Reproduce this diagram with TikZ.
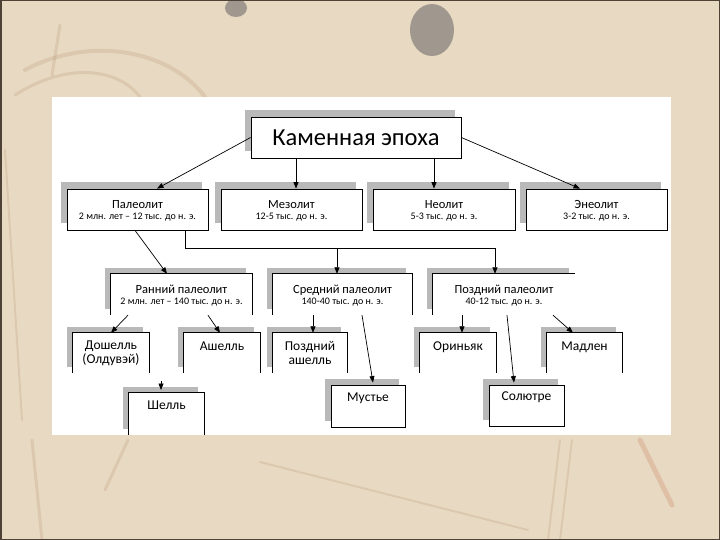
\documentclass[tikz,border=0pt]{standalone}
\usepackage{fontspec}
\setmainfont{Carlito}
\usetikzlibrary{shadows,arrows.meta,calc}
\definecolor{parch}{HTML}{E8DAC2}
\definecolor{streak}{HTML}{B08A6A}
\definecolor{spot}{HTML}{8E8782}
\definecolor{shgray}{HTML}{B9B9B9}
\definecolor{frame}{HTML}{4E4236}
\tikzset{
  shd/.style={general shadow={fill=shgray, shadow xshift=-6pt, shadow yshift=6.5pt}},
  box/.style={rectangle, fill=white, draw=black, line width=0.8pt, inner sep=0pt, align=center, shd},
  obox/.style={rectangle, fill=white, draw=none, inner sep=0pt, align=center, shd},
  arr/.style={line width=0.7pt, -{Triangle[length=6.5pt,width=5pt]}},
  con/.style={line width=0.8pt},
  mainf/.style={font=\fontsize{12.5}{13}\selectfont},
  leaf/.style={font=\fontsize{13.5}{14}\selectfont},
}
\newcommand{\subt}[1]{{\fontsize{10}{10}\selectfont\vphantom{Йд}#1}}
\newcommand{\ttl}[1]{\vphantom{Йд}#1}
\begin{document}
\begin{tikzpicture}[x=1pt,y=-1pt]
\useasboundingbox (0,0) rectangle (720,540);
% background
\fill[parch] (0,0) rectangle (720,540);
\begin{scope}[opacity=0.22, line cap=round]
  \draw[streak, line width=4pt] (25,70) .. controls (90,35) and (170,50) .. (205,97);
  \draw[streak, line width=3pt] (15,95) .. controls (70,60) and (120,70) .. (140,97);
  \draw[streak, line width=3pt] (60,25) -- (52,75);
  \draw[streak, line width=2pt] (5,150) -- (22,420);
  \draw[streak, line width=3pt] (32,440) -- (42,540);
  \draw[streak, line width=3pt] (128,440) -- (105,490);
  \draw[streak, line width=2pt] (560,440) -- (548,540);
  \draw[streak, line width=2pt] (572,440) -- (560,540);
  \draw[streak!70!red, line width=5pt] (640,440) -- (672,505);
  \draw[streak, line width=2pt] (260,462) -- (528,530);
\end{scope}
\fill[spot, opacity=0.8] (432,30) ellipse [x radius=22, y radius=26];
\fill[spot, opacity=0.8] (236,8) ellipse [x radius=11, y radius=9];
\draw[frame, line width=1.5pt] (0.75,0.75) rectangle (719.25,539.25);
% white panel
\fill[white] (52,97) rectangle (671,435);

% level 0
\node[box, minimum width=210pt, minimum height=41pt, font=\fontsize{24.5}{26}\selectfont] (kam) at (356,137.5) {Каменная эпоха};
% level 1
\node[box, mainf, minimum width=141pt, minimum height=41pt] (pal) at (137.5,209.5) {\ttl{Палеолит}\\[-2pt]\subt{2 млн. лет – 12 тыс. до н. э.}};
\node[box, mainf, minimum width=141pt, minimum height=41pt] (mez) at (291.5,209.5) {\ttl{Мезолит}\\[-2pt]\subt{12-5 тыс. до н. э.}};
\node[box, mainf, minimum width=142pt, minimum height=41pt] (neo) at (444,209.5) {\ttl{Неолит}\\[-2pt]\subt{5-3 тыс. до н. э.}};
\node[box, mainf, minimum width=141pt, minimum height=41pt] (eneo) at (596.5,209.5) {\ttl{Энеолит}\\[-2pt]\subt{3-2 тыс. до н. э.}};
% level 2
\node[obox, mainf, minimum width=141pt, minimum height=41pt] (ran) at (181.5,294.5) {\ttl{Ранний палеолит}\\[-2pt]\subt{2 млн. лет – 140 тыс. до н. э.}};
\node[obox, mainf, minimum width=139pt, minimum height=41pt] (sred) at (342.5,294.5) {\ttl{Средний палеолит}\\[-2pt]\subt{140-40 тыс. до н. э.}};
\node[obox, mainf, minimum width=142pt, minimum height=41pt] (pozd) at (504,294.5) {\ttl{Поздний палеолит}\\[-2pt]\subt{40-12 тыс. до н. э.}};
\draw[con] (ran.south west) -- (ran.north west) -- (ran.north east) -- (ran.south east);
\draw[con] (sred.south west) -- (sred.north west) -- (sred.north east) -- (sred.south east);
\draw[con] (pozd.south west) -- (pozd.north west) -- (pozd.north east);
% level 3
\node[obox, leaf, minimum width=76pt, minimum height=40pt] (dosh) at (111,353) {Дошелль\\(Олдувэй)};
\node[obox, leaf, minimum width=76pt, minimum height=40pt] (ash) at (222,353) {Ашелль\\\mbox{}};
\node[obox, leaf, minimum width=74pt, minimum height=40pt] (pash) at (310,353) {Поздний\\ашелль};
\node[obox, leaf, minimum width=76pt, minimum height=40pt] (orin) at (458,353) {Ориньяк\\\mbox{}};
\node[obox, leaf, minimum width=75pt, minimum height=40pt] (madl) at (584.5,353) {Мадлен\\\mbox{}};
\node[obox, leaf, minimum width=75pt, minimum height=42pt] (shel) at (166.5,414) {Шелль\\[4pt]\mbox{}};
\node[box, leaf, minimum width=74pt, minimum height=42pt] (must) at (368,406) {Мустье\\[4pt]\mbox{}};
\node[box, leaf, minimum width=75pt, minimum height=41pt] (sol) at (526.5,405.5) {Солютре\\[4pt]\mbox{}};
\foreach \n in {dosh,ash,pash,orin,madl,shel}
  \draw[con] (\n.south west) -- (\n.north west) -- (\n.north east) -- (\n.south east);

% connectors level 0 -> 1
\draw[arr] (kam.west) -- ([xshift=19.5pt]pal.north);
\draw[arr] ([xshift=-60pt]kam.south) -- ([xshift=-60pt]kam.south |- mez.north);
\draw[arr] ([xshift=78pt]kam.south) -- ([xshift=78pt]kam.south |- neo.north);
\draw[arr] (kam.east) -- ([xshift=-16.5pt]eneo.north);
% level 1 -> 2
\draw[arr] ([xshift=-2.5pt]pal.south) -- ([xshift=-14.5pt]ran.north);
\coordinate (busL) at (185,248);
\coordinate (busM) at (337,248);
\coordinate (busR) at (495,248);
\draw[con] (pal.south -| busL) -- (busL) -- (busR);
\draw[arr] (busM) -- (busM |- sred.north);
\draw[arr] (busR) -- (busR |- pozd.north);
% level 2 -> 3
\draw[arr] ([xshift=-53.5pt]ran.south) -- (dosh.north);
\draw[arr] ([xshift=26.5pt]ran.south) -- ([xshift=-2pt]ash.north);
\draw[arr] ([xshift=-29.5pt]sred.south) -- ([xshift=-29.5pt]sred.south |- pash.north);
\draw[arr] ([xshift=19.5pt]sred.south) -- ([xshift=5pt,yshift=2pt]must.north);
\draw[arr] ([xshift=-42pt]pozd.south) -- ([xshift=-42pt]pozd.south |- orin.north);
\draw[arr] ([xshift=3pt]pozd.south) -- ([xshift=-12.5pt,yshift=2pt]sol.north);
\draw[arr] ([xshift=49pt]pozd.south) -- ([xshift=-11.5pt]madl.north);
\coordinate (shelsrc) at (161,381);
\draw[arr] (shelsrc) -- (shelsrc |- 0,390);
\end{tikzpicture}
\end{document}
